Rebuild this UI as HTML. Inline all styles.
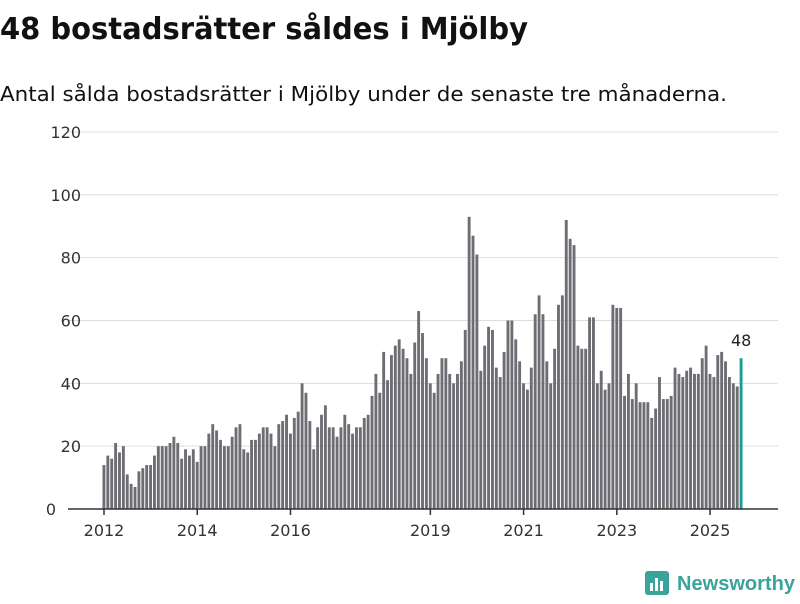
<!DOCTYPE html>
<html><head><meta charset="utf-8"><style>
body{margin:0;width:800px;height:600px;background:#fff;font-family:"DejaVu Sans","Liberation Sans",sans-serif;overflow:hidden}
</style></head><body>
<svg width="800" height="600">
<text x="0" y="39" font-size="30" font-weight="bold" fill="#111" textLength="528" lengthAdjust="spacingAndGlyphs">48 bostadsrätter såldes i Mjölby</text>
<text x="0" y="101" font-size="20" fill="#111" textLength="727" lengthAdjust="spacingAndGlyphs">Antal sålda bostadsrätter i Mjölby under de senaste tre månaderna.</text>
<g id="grid"></g><g id="bars"></g><g id="xaxis"></g>
<g>
<rect x="645" y="571" width="24" height="24" rx="3" fill="#3aa39a"/>
<rect x="650" y="583" width="3" height="8" fill="#fff"/><rect x="655" y="578" width="3" height="13" fill="#fff"/><rect x="660" y="581" width="3" height="10" fill="#fff"/>
<text x="677" y="590" font-size="20" font-weight="bold" fill="#3aa39a" font-family="Liberation Sans" textLength="118" lengthAdjust="spacingAndGlyphs">Newsworthy</text>
</g>
</svg>
<script>
const yTicks=[0,20,40,60,80,100,120];
const xTickYears=[2012,2014,2016,2019,2021,2023,2025];
const values=[14,17,16,21,18,20,11,8,7,12,13,14,
14,17,20,20,20,21,23,21,16,19,17,19,15,
20,20,24,27,25,22,20,20,23,26,27,19,
18,22,22,24,26,26,24,20,27,28,30,24,
29,31,40,37,28,19,26,30,33,26,26,23,
26,30,27,24,26,26,29,30,36,43,37,50,
41,49,52,54,51,48,43,53,63,56,48,40,
37,43,48,48,43,40,43,47,57,93,87,81,
44,52,58,57,45,42,50,60,60,54,47,40,
38,45,62,68,62,47,40,51,65,68,92,86,
84,52,51,51,61,61,40,44,38,40,65,64,
64,36,43,35,40,34,34,34,29,32,42,35,35,
36,45,43,42,44,45,43,43,48,52,43,42,
49,50,47,42,40,39,48];
const NS="http://www.w3.org/2000/svg";
const y0=509,y120=132;
const y=v=>y0-(v/120)*(y0-y120);
const step=3.885,x0=104;
const x=i=>x0+i*step;
function mk(t,a,p){const e=document.createElementNS(NS,t);for(const k in a)e.setAttribute(k,a[k]);p.appendChild(e);return e;}
const grid=document.getElementById('grid');
yTicks.forEach(v=>{
 if(v>0){const l=mk('line',{x1:68,x2:778,y1:y(v),y2:y(v),stroke:'#ddd','stroke-width':1},grid);
 
 }
 const t=mk('text',{x:v===0?56:81,y:y(v)+6,'text-anchor':'end','font-size':16,fill:'#333'},grid);
 t.textContent=v;
 
 
});
const bars=document.getElementById('bars');
values.forEach((v,i)=>{
 const last=i===values.length-1;
 const r=mk('rect',{x:x(i)-1.5,y:y(v),width:step-1,height:y0-y(v),fill:last?'#1a9e92':'#6e6d73'},bars);
 
 
 if(last){const t=mk('text',{x:x(i),y:y(v)-12,'text-anchor':'middle','font-size':16,fill:'#222'},bars);t.textContent=v;
 
 }
});
const xa=document.getElementById('xaxis');
const ax=mk('line',{x1:68,x2:778,y1:y0,y2:y0,stroke:'#333','stroke-width':1.5},xa);


xTickYears.forEach(yr=>{
 const xx=x((yr-2012)*12);
 mk('line',{x1:xx,x2:xx,y1:y0,y2:y0+6,stroke:'#333','stroke-width':1.5},xa);
 const t=mk('text',{x:xx,y:536,'text-anchor':'middle','font-size':16,fill:'#333'},xa);
 t.textContent=yr;
 
 
});
</script>
</body></html>
